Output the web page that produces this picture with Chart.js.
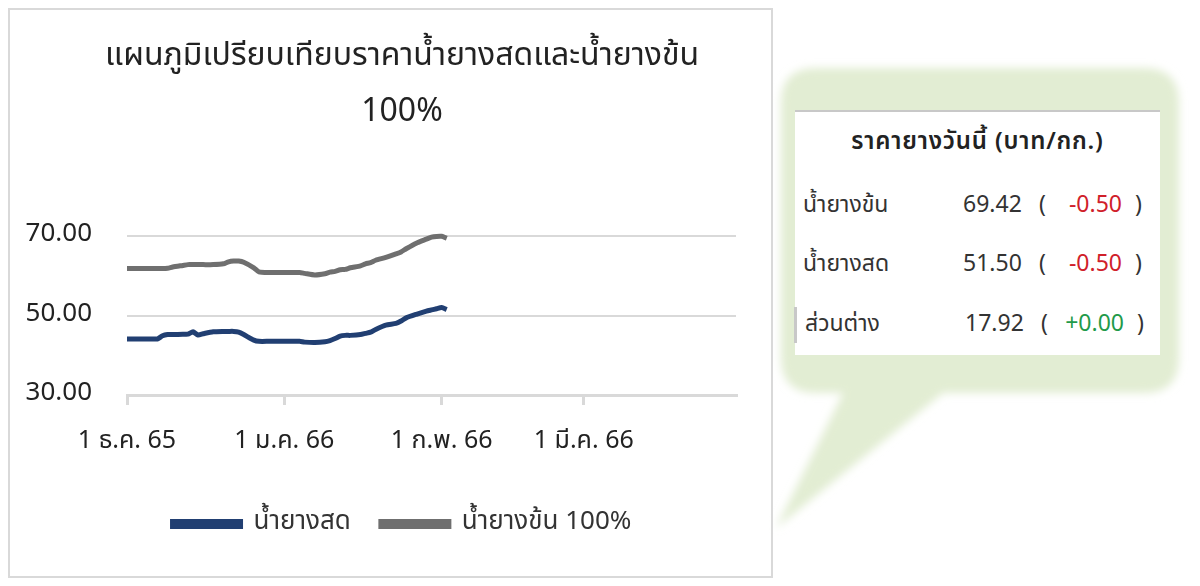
<!DOCTYPE html>
<html>
<head>
<meta charset="utf-8">
<script src="https://cdn.jsdelivr.net/npm/chart.js@4.4.1/dist/chart.umd.min.js"></script>
<style>
  body { margin: 0; background: #fff; width: 1200px; height: 586px; position: relative; overflow: hidden;
         font-family: Tahoma, "Noto Sans Thai", "Noto Sans", "DejaVu Sans", sans-serif; }
  #box { position: absolute; left: 8px; top: 8px; width: 761px; height: 566px; border: 2px solid #d9d9d9; }
  #chart { position: absolute; left: 10px; top: 10px; }
  #bubble { position: absolute; left: 0; top: 0; }
  #today { position: absolute; left: 795px; top: 110px; width: 365px; height: 243px; background: #fff;
           border-top: 2px solid #c8c8c8; color: #333; font-size: 23px; }
  #today .head { position: absolute; left: 0; width: 100%; top: 12px; text-align: center; font-weight: 600;
                 font-size: 24px; letter-spacing: 0.8px; color: #222; }
  #today .row { position: absolute; left: 0; width: 100%; height: 36px; }
  #today .row span { position: absolute; top: 0; }
  .lab { left: 8px; }
  .val { left: 168px; }
  .op { left: 244px; }
  .chg { right: 38px; }
  .cp { left: 340px; }
  .neg { color: #d0202a; }
  .pos { color: #1f9a4a; }
</style>
</head>
<body>
<svg id="bubble" width="1200" height="586">
  <defs>
    <filter id="soft" x="-5%" y="-5%" width="110%" height="110%">
      <feGaussianBlur stdDeviation="4"/>
    </filter>
  </defs>
  <path filter="url(#soft)" fill="#e2edd3"
        d="M816,68 H1144 Q1179,68 1179,103 V358 Q1179,393 1144,393 H943 L776,528 L843,393 H816 Q781,393 781,358 V103 Q781,68 816,68 Z"/>
</svg>
<div id="box"></div>
<canvas id="chart" width="784" height="566"></canvas>
<div id="today">
  <div class="head">ราคายางวันนี้ (บาท/กก.)</div>
  <div class="row" style="top:76px"><span class="lab">น้ำยางข้น</span><span class="val">69.42</span><span class="op">(</span><span class="chg neg">-0.50</span><span class="cp">)</span></div>
  <div class="row" style="top:135px"><span class="lab">น้ำยางสด</span><span class="val">51.50</span><span class="op">(</span><span class="chg neg">-0.50</span><span class="cp">)</span></div>
  <div class="row" style="top:195px; border-left: 3px solid #c8c8c8; margin-left:-1px"><span class="lab">ส่วนต่าง</span><span class="val">17.92</span><span class="op">(</span><span class="chg pos">+0.00</span><span class="cp">)</span></div>
</div>
<script>
// วันที่ของแต่ละจุด (ทั้งสองเส้นใช้ชุดเดียวกัน)
const priceDates = [
  '2022-12-01', '2022-12-03', '2022-12-05', '2022-12-07', '2022-12-08', '2022-12-09', '2022-12-10',
  '2022-12-12', '2022-12-13', '2022-12-14', '2022-12-15', '2022-12-16', '2022-12-18', '2022-12-20',
  '2022-12-21', '2022-12-22', '2022-12-23', '2022-12-24', '2022-12-26', '2022-12-27', '2022-12-29',
  '2022-12-31', '2023-01-02', '2023-01-04', '2023-01-05', '2023-01-07', '2023-01-09', '2023-01-10',
  '2023-01-11', '2023-01-12', '2023-01-13', '2023-01-14', '2023-01-16', '2023-01-17', '2023-01-18',
  '2023-01-19', '2023-01-21', '2023-01-23', '2023-01-24', '2023-01-25', '2023-01-27', '2023-01-29',
  '2023-01-30', '2023-01-31', '2023-02-01', '2023-02-02'
];
// น้ำยางสด (บาท/กก.)
const freshLatex = [
  44.1, 44.1, 44.1, 44.1, 44.9, 45.2, 45.2,
  45.3, 45.3, 45.9, 45.1, 45.4, 45.9, 46.0,
  46.0, 46.0, 45.8, 45.2, 43.8, 43.5, 43.5,
  43.5, 43.5, 43.5, 43.3, 43.2, 43.4, 43.7,
  44.2, 44.8, 45.0, 45.0, 45.2, 45.5, 45.8,
  46.5, 47.6, 48.0, 48.6, 49.4, 50.3, 51.1,
  51.4, 51.7, 52.0, 51.5
];
// น้ำยางข้น 100% (บาท/กก.)
const concLatex = [
  61.8, 61.8, 61.8, 61.8, 61.8, 61.9, 62.2,
  62.6, 62.8, 62.8, 62.8, 62.8, 62.8, 63.0,
  63.5, 63.7, 63.7, 63.4, 62.0, 61.0, 60.8,
  60.8, 60.8, 60.8, 60.6, 60.2, 60.5, 60.9,
  61.1, 61.5, 61.6, 62.0, 62.5, 63.0, 63.3,
  63.9, 64.6, 65.5, 66.0, 66.8, 68.2, 69.2,
  69.7, 69.9, 69.92, 69.42
];
const axisStart = '2022-12-01';
const axisEnd = '2023-03-31';
const tickDates = ['2022-12-01', '2023-01-01', '2023-02-01', '2023-03-01'];
const tickLabels = ['1 ธ.ค. 65', '1 ม.ค. 66', '1 ก.พ. 66', '1 มี.ค. 66'];
const yTicks = [30, 50, 70];

const DAY = 86400000;
const dayOf = d => (Date.parse(d) - Date.parse(axisStart)) / DAY;
const toPoints = vals => vals.map((v, i) => ({ x: dayOf(priceDates[i]), y: v }));

Chart.defaults.font.family = 'Tahoma, "Noto Sans Thai", "Noto Sans", "DejaVu Sans", sans-serif';
Chart.defaults.color = '#333';

new Chart(document.getElementById('chart'), {
  type: 'line',
  data: {
    datasets: [
      {
        label: 'น้ำยางสด',
        data: toPoints(freshLatex),
        borderColor: '#213f72',
        backgroundColor: '#213f72',
        borderWidth: 5,
        pointRadius: 0,
        tension: 0.2,
        clip: 6
      },
      {
        label: 'น้ำยางข้น 100%',
        data: toPoints(concLatex),
        borderColor: '#6f6f6f',
        backgroundColor: '#6f6f6f',
        borderWidth: 5,
        pointRadius: 0,
        tension: 0.2,
        clip: 6
      }
    ]
  },
  options: {
    responsive: false,
    animation: false,
    layout: { padding: { left: 0, right: 0, top: 13, bottom: 29 } },
    plugins: {
      title: {
        display: true,
        text: ['แผนภูมิเปรียบเทียบราคาน้ำยางสดและน้ำยางข้น', '100%'],
        font: { size: 32, weight: 'normal', lineHeight: 1.75 },
        color: '#222',
        padding: { top: 8, bottom: 93 }
      },
      legend: {
        position: 'bottom',
        labels: {
          boxWidth: 68,
          boxHeight: 5,
          padding: 30,
          color: '#333',
          font: { size: 26 }
        }
      },
      tooltip: { enabled: false }
    },
    scales: {
      x: {
        type: 'linear',
        min: 0,
        max: dayOf(axisEnd),
        afterBuildTicks: axis => { axis.ticks = tickDates.map(d => ({ value: dayOf(d) })); },
        ticks: {
          autoSkip: false,
          maxRotation: 0,
          padding: 23,
          font: { size: 25 },
          color: '#222',
          callback: (v) => tickLabels[tickDates.findIndex(d => dayOf(d) === v)]
        },
        grid: { drawOnChartArea: false, drawTicks: true, tickLength: 10, color: '#d9d9d9', lineWidth: 3 },
        border: { display: true, color: '#d9d9d9', width: 3 }
      },
      y: {
        min: 30,
        max: 70,
        afterBuildTicks: axis => { axis.ticks = yTicks.map(v => ({ value: v })); },
        afterFit: s => { s.width = 117; },
        ticks: {
          padding: 35,
          font: { size: 26 },
          color: '#222',
          callback: v => v.toFixed(2)
        },
        grid: { color: '#d9d9d9', lineWidth: 2, drawTicks: false },
        border: { display: false }
      },
      // empty right-hand axis, only keeps the gap after the plot
      yRight: {
        position: 'right',
        min: 30,
        max: 70,
        afterFit: s => { s.width = 58; },
        ticks: { display: false },
        grid: { display: false },
        border: { display: false }
      }
    }
  }
});
</script>
</body>
</html>
